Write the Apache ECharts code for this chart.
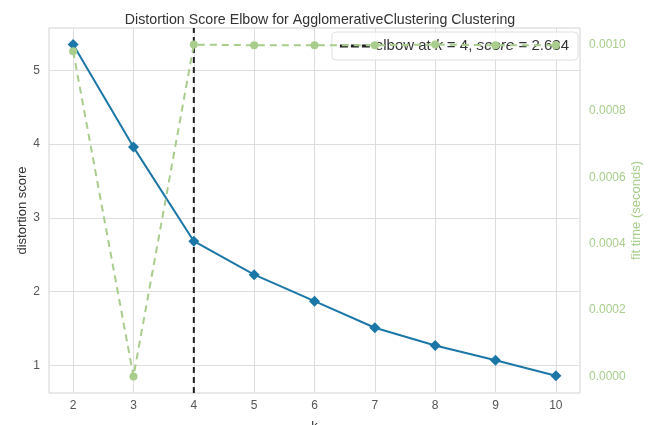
<!DOCTYPE html>
<html><head><meta charset="utf-8">
<script src="https://cdn.jsdelivr.net/npm/echarts@6/dist/echarts.min.js"></script>
<style>html,body{margin:0;padding:0;background:#fff}#c{width:655px;height:425px}</style>
</head><body><div id="c"></div>
<script>
const kValues = [2, 3, 4, 5, 6, 7, 8, 9, 10];
const distortion = [5.35, 3.96, 2.684, 2.23, 1.87, 1.51, 1.27, 1.07, 0.86];
const fitTime = [0.00098, 0.0, 0.001, 0.000998, 0.000998, 0.000998, 0.001, 0.000998, 0.000998];
const xTicks = [2, 3, 4, 5, 6, 7, 8, 9, 10];
const yTicks = [1, 2, 3, 4, 5];
const y2Ticks = [0, 0.0002, 0.0004, 0.0006, 0.0008, 0.001];
const elbowK = 4, elbowScore = 2.684;

const chart = echarts.init(document.getElementById('c'));
const font = 'Liberation Sans, Arial, sans-serif';
const yMin = 0.625, yMax = 5.575;
chart.setOption({
  animation: false,
  backgroundColor: '#fff',
  title: {
    text: 'Distortion Score Elbow for AgglomerativeClustering Clustering',
    left: 315, top: 8, textAlign: 'center',
    textStyle: {fontFamily: font, fontSize: 14.2, fontWeight: 'normal', color: '#333'}
  },
  grid: {left: 49, right: 75, top: 28, bottom: 32, show: true, borderColor: '#d2d2d2', borderWidth: 1,
    containLabel: false, outerBoundsMode: 'none'},
  legend: {
    data: [{name: 'elbow', icon: 'path://M0,0h8v3h-8z M11,0h8v3h-8z M22,0h8v3h-8z'}],
    right: 77, top: 32, z: 4,
    backgroundColor: 'rgba(255,255,255,0.8)', borderColor: '#e0e0e0', borderWidth: 1, borderRadius: 4,
    padding: [6, 9, 6, 8], itemWidth: 30, itemHeight: 3, itemGap: 8,
    formatter: () => '{a|elbow at }{i|k}{a| = ' + elbowK + ', }{i|score}{a| = ' + elbowScore + '}',
    textStyle: {
      fontFamily: font, fontSize: 15, color: '#333',
      rich: {
        a: {fontFamily: font, fontSize: 15, lineHeight: 18, color: '#333'},
        i: {fontFamily: font, fontStyle: 'italic', fontSize: 15.5, lineHeight: 18, color: '#333'}
      }
    }
  },
  xAxis: {
    type: 'value', min: 1.6, max: 10.4,
    name: 'k', nameLocation: 'middle', nameGap: 27, nameMoveOverlap: false,
    nameTextStyle: {fontFamily: font, fontSize: 13, color: '#333'},
    axisLine: {show: false}, axisTick: {show: false, customValues: xTicks},
    axisLabel: {customValues: xTicks, fontFamily: font, fontSize: 12, color: '#555', margin: 7},
    splitLine: {show: true, lineStyle: {color: '#dedede', width: 1}}
  },
  yAxis: [{
    type: 'value', min: yMin, max: yMax,
    name: 'distortion score', nameLocation: 'middle', nameGap: 20, nameRotate: 90, nameMoveOverlap: false,
    nameTextStyle: {fontFamily: font, fontSize: 13, color: '#333'},
    axisLine: {show: false}, axisTick: {show: false, customValues: yTicks},
    axisLabel: {customValues: yTicks, fontFamily: font, fontSize: 12, color: '#555', margin: 9},
    splitLine: {show: true, lineStyle: {color: '#dedede', width: 1}}
  }, {
    type: 'value', min: -0.00005, max: 0.00105, position: 'right',
    name: 'fit time (seconds)', nameLocation: 'middle', nameGap: 50, nameRotate: 90, nameMoveOverlap: false,
    nameTextStyle: {fontFamily: font, fontSize: 13, color: '#a8cd8c'},
    axisLine: {show: false}, axisTick: {show: false, customValues: y2Ticks},
    axisLabel: {customValues: y2Ticks, fontFamily: font, fontSize: 12, color: '#a8cd8c', margin: 9,
      formatter: v => v.toFixed(4)},
    splitLine: {show: false}
  }],
  series: [{
    name: 'distortion', type: 'line', yAxisIndex: 0, z: 3,
    data: kValues.map((k, i) => [k, distortion[i]]),
    symbol: 'diamond', symbolSize: 11,
    itemStyle: {color: '#1b77a8'}, lineStyle: {color: '#1b77a8', width: 2}
  }, {
    name: 'elbow', type: 'line', yAxisIndex: 0, z: 3,
    data: [[elbowK, yMin], [elbowK, yMax]],
    symbol: 'none', itemStyle: {color: '#222'},
    lineStyle: {color: '#222', width: 2, type: [6, 4]}
  }, {
    name: 'fit time', type: 'line', yAxisIndex: 1, z: 5,
    data: kValues.map((k, i) => [k, fitTime[i]]),
    symbol: 'circle', symbolSize: 8,
    itemStyle: {color: '#a8cd8c'}, lineStyle: {color: '#a8cd8c', width: 2, type: [7, 5]}
  }]
});
</script></body></html>
